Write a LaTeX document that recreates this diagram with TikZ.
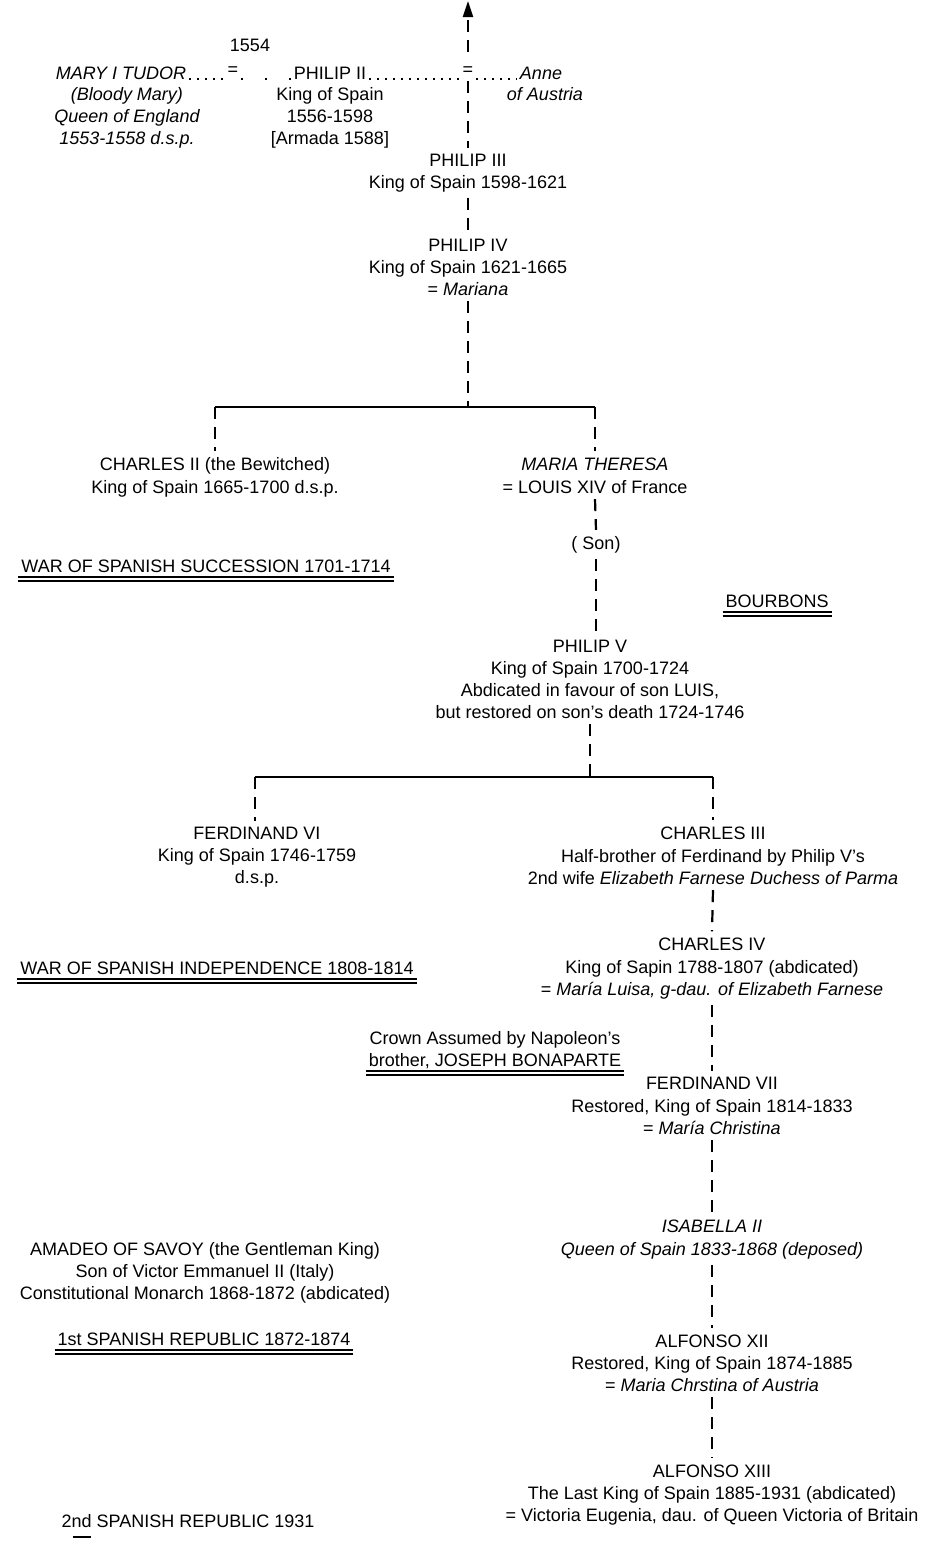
\documentclass[tikz,border=0pt]{standalone}
\usepackage{fontspec}
\setmainfont{Liberation Sans}
\usetikzlibrary{arrows.meta}
\begin{document}
\begin{tikzpicture}[x=1pt,y=-1pt,
  every node/.style={inner sep=0pt, outer xsep=3pt, outer ysep=6pt, font=\fontsize{18}{22}\selectfont, align=center, anchor=base},
  it/.style={font=\fontsize{18}{22}\selectfont\itshape},
  dline/.style={line width=2.2pt, dash pattern=on 12pt off 8pt},
  bar/.style={line width=2.4pt},
  dots/.style={line width=2.2pt, dash pattern=on 2pt off 6pt},
  sparsedots/.style={line width=2.2pt, dash pattern=on 2pt off 22pt},
  uline/.style={line width=1.8pt}]
\useasboundingbox (0,0) rectangle (931,1545);

% top
\coordinate (arrt) at (468,1);
\coordinate (arrb) at (468,52);
\node (n1554) at (250,51) {1554};
\node[it] (mary) at (121,79) {MARY I TUDOR};
\node (eq1) at (233,75) {=};
\node (philip2) at (330,79) {PHILIP II};
\node (eq2) at (468,75) {=};
\node[it] (anne) at (541,79) {Anne};
\node[it] (maryd) at (127,144) {(Bloody Mary)\\Queen of England\\1553-1558 d.s.p.};
\node (philip2d) at (330,144) {King of Spain\\1556-1598\\{[}Armada 1588{]}};
\node[it] (anned) at (545,100) {of Austria};

\draw[dline,-{Triangle[width=10pt,length=16pt]}] (arrb) -- (arrt);
\draw[dots] (mary.base east) -- (mary.base east -| eq1.west);
\draw[sparsedots] (eq1.east |- philip2.base) -- (philip2.base west);
\draw[dots] (philip2.base east) -- (philip2.base -| eq2.west);
\draw[dots] (eq2.east |- anne.base) -- (anne.base west);

\node (philip3) at (468,166) {PHILIP III};
\node (philip3d) at (468,188) {King of Spain 1598-1621};
\draw[dline] (eq2.south) -- (philip3.north);

\node (philip4) at (468,251) {PHILIP IV};
\node (philip4d) at (468,295) {King of Spain 1621-1665\\= \textit{Mariana}};
\draw[dline] (philip3d.south) -- (philip4.north);

\coordinate (b1) at (468,407);
\coordinate (b1l) at (215,407);
\coordinate (b1r) at (595,407);
\node (charles2) at (215,470) {CHARLES II (the Bewitched)};
\node (charles2d) at (215,493) {King of Spain 1665-1700 d.s.p.};
\node[it] (mariat) at (595,470) {MARIA THERESA};
\node (mariatd) at (595,493) {= LOUIS XIV of France};
\draw[dline] (philip4d.south) -- (b1);
\draw[bar] (b1l) -- (b1r);
\draw[dline] (b1l) -- (charles2.north);
\draw[dline] (b1r) -- (mariat.north);

\node (war1) at (206,572) {WAR OF SPANISH SUCCESSION 1701-1714};
\draw[uline] ([yshift=-5pt]war1.base west) -- ([yshift=-5pt]war1.base east);
\draw[uline] ([yshift=-9pt]war1.base west) -- ([yshift=-9pt]war1.base east);

\node (son) at (596,549) {( Son)};
\node (bourbons) at (777,607) {BOURBONS};
\draw[uline] ([yshift=-5pt]bourbons.base west) -- ([yshift=-5pt]bourbons.base east);
\draw[uline] ([yshift=-9pt]bourbons.base west) -- ([yshift=-9pt]bourbons.base east);

\node (philip5) at (590,652) {PHILIP V};
\node (philip5d) at (590,718) {King of Spain 1700-1724\\Abdicated in favour of son LUIS,\\but restored on son's death 1724-1746};
\draw[dline] (mariatd.south) -- (son.north);
\draw[dline] (son.south) -- (son.south |- philip5.north);

\coordinate (b2) at (590,777);
\coordinate (b2l) at (255,777);
\coordinate (b2r) at (713,777);
\node (ferd6) at (257,839) {FERDINAND VI};
\node (ferd6d) at (257,883) {King of Spain 1746-1759\\d.s.p.};
\node (charles3) at (713,839) {CHARLES III};
\node (charles3d) at (713,884) {Half-brother of Ferdinand by Philip V's\\2nd wife \textit{Elizabeth Farnese Duchess of Parma}};
\draw[dline] (philip5d.south) -- (b2);
\draw[bar] (b2l) -- (b2r);
\draw[dline] (b2l) -- (b2l |- ferd6.north);
\draw[dline] (b2r) -- (charles3.north);

\node (charles4) at (712,950) {CHARLES IV};
\node (charles4d) at (712,995) {King of Sapin 1788-1807 (abdicated)\\= \textit{María Luisa, g-dau. of Elizabeth Farnese}};
\draw[dline] (charles3d.south) -- (charles4.north);

\node (war2) at (217,974) {WAR OF SPANISH INDEPENDENCE 1808-1814};
\draw[uline] ([yshift=-5pt]war2.base west) -- ([yshift=-5pt]war2.base east);
\draw[uline] ([yshift=-9pt]war2.base west) -- ([yshift=-9pt]war2.base east);

\node (nap1) at (495,1044) {Crown Assumed by Napoleon's};
\node (nap2) at (495,1066) {brother, JOSEPH BONAPARTE};
\draw[uline] ([yshift=-5pt]nap2.base west) -- ([yshift=-5pt]nap2.base east);
\draw[uline] ([yshift=-9pt]nap2.base west) -- ([yshift=-9pt]nap2.base east);

\node (ferd7) at (712,1089) {FERDINAND VII};
\node (ferd7d) at (712,1134) {Restored, King of Spain 1814-1833\\= \textit{María Christina}};
\draw[dline] (charles4d.south) -- (ferd7.north);

\node[it] (isabella) at (712,1232) {ISABELLA II};
\node[it] (isabellad) at (712,1255) {Queen of Spain 1833-1868 (deposed)};
\draw[dline] (ferd7d.south) -- (isabella.north);

\node (amadeo) at (205,1299) {AMADEO OF SAVOY (the Gentleman King)\\Son of Victor Emmanuel II (Italy)\\Constitutional Monarch 1868-1872 (abdicated)};
\node (rep1) at (204,1345) {1st SPANISH REPUBLIC 1872-1874};
\draw[uline] ([yshift=-5pt]rep1.base west) -- ([yshift=-5pt]rep1.base east);
\draw[uline] ([yshift=-9pt]rep1.base west) -- ([yshift=-9pt]rep1.base east);

\node (alfonso12) at (712,1347) {ALFONSO XII};
\node (alfonso12d) at (712,1391) {Restored, King of Spain 1874-1885\\= \textit{Maria Chrstina of Austria}};
\draw[dline] (isabellad.south) -- (alfonso12.north);

\node (alfonso13) at (712,1477) {ALFONSO XIII};
\node (alfonso13d) at (712,1521) {The Last King of Spain 1885-1931 (abdicated)\\= Victoria Eugenia, dau. of Queen Victoria of Britain};
\draw[dline] (alfonso12d.south) -- (alfonso13.north);

\node (rep2) at (188,1527) {2nd SPANISH REPUBLIC 1931};
\draw[line width=1.4pt] ([xshift=14pt,yshift=-10pt]rep2.base west) -- ([xshift=32pt,yshift=-10pt]rep2.base west);
\end{tikzpicture}
\end{document}
